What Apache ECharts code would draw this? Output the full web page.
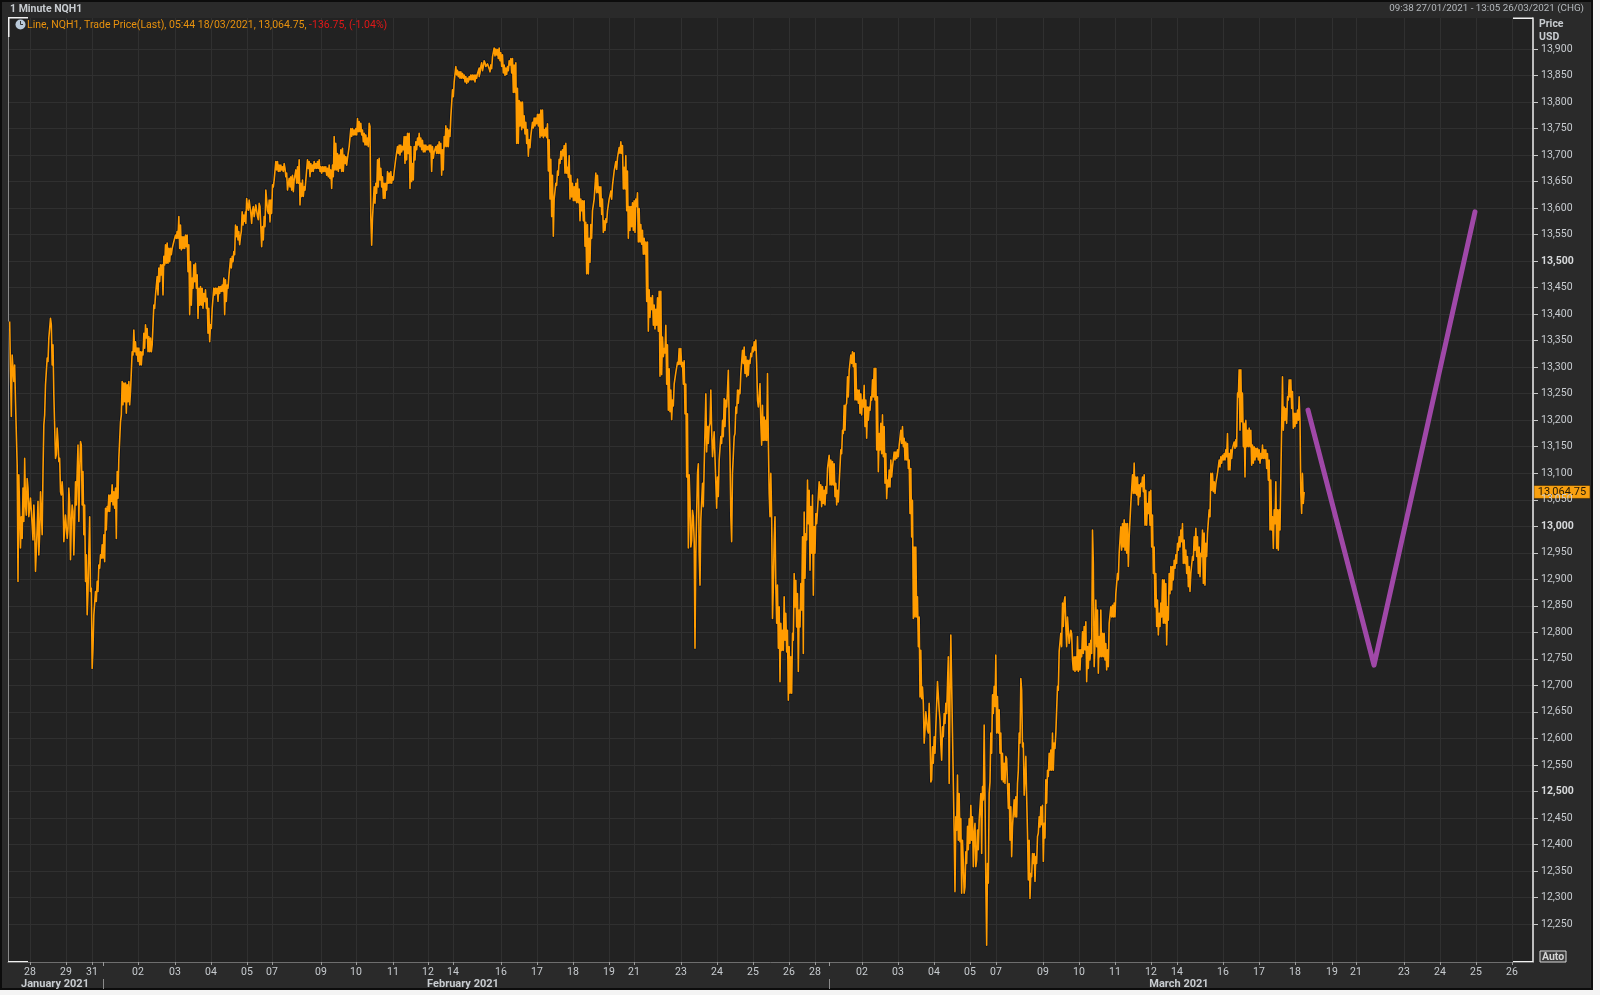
<!DOCTYPE html>
<html><head><meta charset="utf-8">
<script src="https://cdn.jsdelivr.net/npm/echarts@6/dist/echarts.min.js"></script>
<style>html,body{margin:0;padding:0;background:#f4f4f4;width:1600px;height:995px;overflow:hidden}
#chart{position:absolute;left:0;top:0;width:1593px;height:990px}</style></head>
<body><div id="chart"></div>
<script>
// Time axis: one slot = 1/36 of a trading session, counted from the 28 Jan tick.
const xTickLabels = ['28','29','31','02','03','04','05','07','09','10','11','12','14','16','17','18','19','21','23','24','25','26','28','02','03','04','05','07','09','10','11','12','14','16','17','18','19','21','23','24','25','26'];
const xTickSlots = [0,36,62,108,145,181,217,242,291,326,363,398,423,471,507,543,579,604,651,687,723,759,785,832,868,904,940,966,1013,1049,1085,1121,1147,1193,1229,1265,1302,1326,1374,1410,1446,1482];
const monthLabels = ['January 2021','February 2021','March 2021'];
const monthLabelSlots = [25,433,1149];
const monthStartSlots = [73,799];
const yTicks = [13900,13850,13800,13750,13700,13650,13600,13550,13500,13450,13400,13350,13300,13250,13200,13150,13100,13050,13000,12950,12900,12850,12800,12750,12700,12650,12600,12550,12500,12450,12400,12350,12300,12250];
const yBoldTicks = [13500,13000,12500];
const lastPrice = 13064.75;
const sampleStep = 5/6;

const startA = -20.33;
const pricesA = [13386,13292,13207,13323,13326,13273,13304,13235,13235,13116,12896,13097,13021,12959,13018,12977,13072,13009,13128,13040,13021,13090,13072,13018,13018,13053,13028,13003,12974,13040,12996,12915,12915,12996,13047,12946,12984,13065,13065,12984,13103,13191,13210,13267,13267,13317,13311,13355,13355,13392,13380,13304,13342,13248,13248,13128,13135,13185,13160,13122,13128,13065,13059,13084,13059,12971,12974,13021,13021,12977,12996,13072,13043,12937,13009,13040,13028,12946,13009,13084,13040,13103,13153,13009,13103,13160,13153,13040,13103,12984,13040,12896,12946,12833,12877,12952,13018,12877,12883,12732,12770,12833,12833,12877,12858,12896,12877,12927,12921,12946,12940,12965,12940,12984,12933,13034,12993,13037,13028,13059,13028,13059,13047,13078,13040,13065,13034,13072,12977,13103,13053,13128,13128,13197,13210,13273,13229,13270,13235,13270,13213,13267,13235,13273,13229,13254,13254,13329,13323,13370,13329,13348,13323,13336,13311,13336,13304,13329,13304,13329,13323,13364,13336,13380,13355,13373,13329,13358,13329,13355,13329,13342,13342,13417,13411,13436,13436,13471,13436,13487,13461,13493,13474,13493,13436,13509,13493,13531,13496,13534,13496,13524,13499,13524,13512,13524,13524,13537,13537,13549,13543,13556,13543,13584,13524,13568,13521,13546,13524,13546,13524,13549,13527,13549,13480,13531,13399,13499,13417,13468,13449,13493,13461,13496,13449,13474,13392,13449,13417,13452,13417,13449,13411,13439,13424,13446,13411,13430,13364,13411,13348,13380,13373,13411,13411,13449,13436,13449,13439,13449,13424,13452,13439,13452,13443,13455,13443,13468,13399,13465,13424,13455,13449,13471,13471,13505,13487,13509,13499,13518,13512,13568,13546,13565,13540,13556,13531,13546,13556,13593,13568,13587,13575,13593];

const startB = 215;
const pricesB = [13590,13571,13618,13603,13596,13615,13603,13590,13571,13596,13603,13584,13587,13606,13609,13584,13578,13609,13603,13565,13527,13565,13540,13584,13565,13634,13637,13596,13590,13615,13574,13615,13590,13644,13640,13653,13653,13688,13672,13688,13669,13681,13669,13681,13672,13678,13669,13684,13675,13659,13666,13634,13631,13656,13640,13659,13634,13662,13631,13653,13653,13672,13647,13678,13647,13691,13606,13647,13622,13653,13622,13640,13634,13653,13653,13691,13675,13688,13659,13684,13669,13681,13669,13688,13675,13684,13675,13688,13675,13691,13669,13678,13666,13678,13669,13678,13669,13678,13662,13675,13659,13681,13656,13672,13637,13681,13659,13735,13672,13722,13672,13703,13669,13700,13675,13710,13669,13713,13669,13700,13684,13697,13681,13694,13691,13716,13716,13750,13735,13750,13738,13747,13738,13750,13738,13769,13744,13763,13744,13760,13738,13747,13725,13741,13719,13738,13719,13732,13716,13760,13754,13581,13530,13581,13584,13640,13609,13647,13628,13691,13640,13694,13653,13675,13640,13659,13618,13647,13618,13647,13634,13669,13647,13666,13647,13669,13647,13659,13653,13669,13666,13694,13694,13716,13703,13719,13700,13719,13706,13716,13710,13735,13684,13735,13691,13741,13703,13741,13637,13716,13650,13684,13653,13716,13691,13725,13710,13732,13719,13741,13716,13732,13710,13728,13706,13719,13706,13719,13710,13716,13710,13719,13706,13719,13669,13716,13694,13706,13703,13716,13703,13719,13703,13725,13703,13722,13662,13710,13672,13735,13716,13755,13716,13750,13716,13747,13735,13772,13772,13823,13810,13838,13838,13867,13851,13860,13848,13857,13845,13857,13845,13854,13845,13851,13838,13848,13835,13845,13838,13848,13842,13851,13842,13851,13842,13851,13838,13851,13845,13854,13854,13864];

const startC = 448.33;
const pricesC = [13861,13848,13855,13867,13874,13859,13867,13878,13874,13867,13867,13872,13872,13863,13857,13870,13863,13885,13882,13902,13887,13900,13889,13899,13882,13902,13878,13893,13867,13889,13855,13870,13850,13864,13852,13867,13859,13878,13870,13882,13855,13882,13818,13870,13818,13874,13722,13826,13722,13803,13755,13800,13748,13800,13751,13774,13740,13762,13722,13748,13698,13729,13714,13736,13736,13762,13751,13770,13755,13770,13759,13777,13755,13777,13733,13785,13736,13785,13733,13748,13736,13751,13733,13759,13670,13729,13617,13692,13584,13662,13547,13617,13617,13647,13643,13670,13662,13692,13684,13707,13692,13710,13699,13718,13666,13722,13666,13677,13658,13699,13617,13662,13621,13647,13614,13640,13614,13647,13610,13655,13610,13636,13576,13617,13595,13614,13576,13614,13528,13573,13476,13569,13476,13543,13498,13569,13543,13595,13595,13617,13614,13666,13629,13662,13629,13640,13603,13640,13588,13617,13554,13576,13558,13580,13573,13595,13595,13617,13614,13632,13617,13643,13640,13670,13670,13688,13673,13695,13692,13714,13703,13725,13703,13718,13636,13677,13636,13699,13595,13670,13543,13603,13558,13603,13565,13610,13558,13614,13554,13617,13603,13629,13536,13599,13536,13569,13532,13558,13513,13543,13513,13536,13424,13536,13368,13446,13394,13431,13409,13435,13379,13417,13372,13409,13379,13431,13368,13443,13283,13443,13286,13357,13320,13335,13327,13379,13268,13342,13219,13297,13216,13257,13201,13238,13227,13268,13271,13290,13290,13309,13305,13335,13305,13335,13301,13309,13268,13312,13212,13268,13093,13212,12959,13097];

const startD = 660;
const pricesD = [13049,12961,12974,13030,13018,12974,12770,12949,12949,13100,13118,12949,12889,13012,13012,13081,13037,13112,13112,13250,13140,13188,13156,13188,13194,13257,13181,13131,13131,13178,13175,13081,13034,13093,13056,13125,13125,13169,13156,13200,13169,13241,13188,13238,13225,13257,13294,13200,13134,13018,12971,13100,13134,13169,13175,13225,13213,13257,13232,13257,13250,13288,13288,13332,13307,13338,13288,13320,13282,13313,13285,13313,13307,13326,13320,13338,13329,13348,13332,13351,13307,13238,13225,13244,13269,13194,13153,13228,13162,13206,13162,13200,13162,13288,13162,13062,13018,13100,13018,12826,12886,12974,13018,12886,12817,12889,12770,12848,12707,12817,12766,12804,12766,12867,12785,12836,12763,12804,12672,12773,12685,12754,12685,12798,12785,12911,12848,12898,12810,12873,12726,12842,12810,12892,12842,12980,12760,13027,12902,12986,12974,13087,13005,13068,12917,13037,12949,13059,12870,12999,12949,13024,13005,13030,13030,13084,13049,13078,13037,13075,13043,13068,13040,13075,13062,13109,13106,13134,13078,13125,13078,13122,13078,13118,13056,13081,13040,13068,13046,13081,13081,13144,13137,13181,13175,13228,13181,13228,13232,13282,13244,13294,13294,13323,13307,13329,13301,13327,13238,13307,13238,13257,13232,13257,13213,13250,13210,13238,13225,13266,13188,13238,13166,13225,13200,13225,13219,13244,13238,13276,13244,13298,13238,13298,13144,13244,13103,13175,13144,13194,13137,13210,13131,13188,13081,13137,13052,13087,13074,13106,13074,13125,13093,13112,13112,13140,13125,13140,13128,13144,13131,13153,13150,13181,13156,13188,13150,13166,13125,13159,13125,13156,13109,13125,13024,13109,12980,13049,12826,12961,12829,12961,12829,12867,12773,12829,12678,12766,12675,12697];

const startE = 893.33;
const pricesE = [12666,12591,12616,12650,12647,12616,12610,12666,12610,12518,12522,12584,12553,12603,12572,12622,12622,12707,12704,12654,12635,12588,12559,12622,12603,12647,12628,12666,12647,12704,12754,12515,12679,12795,12798,12610,12610,12421,12311,12452,12427,12531,12408,12496,12405,12449,12308,12408,12364,12308,12320,12386,12364,12434,12390,12449,12402,12474,12408,12452,12358,12421,12440,12358,12371,12427,12390,12446,12446,12496,12383,12509,12484,12625,12490,12327,12210,12364,12327,12496,12518,12610,12572,12682,12647,12698,12660,12757,12610,12679,12610,12654,12572,12610,12522,12572,12518,12553,12515,12566,12562,12515,12468,12515,12408,12471,12377,12434,12434,12484,12452,12490,12452,12515,12540,12610,12591,12713,12691,12584,12591,12493,12522,12566,12490,12421,12333,12408,12298,12345,12339,12383,12364,12383,12330,12377,12364,12415,12421,12452,12433,12471,12437,12474,12368,12440,12412,12522,12478,12540,12528,12572,12540,12578,12540,12610,12540,12591,12581,12610,12610,12698,12691,12764];

const startF = 1030;
const pricesF = [12767,12798,12773,12855,12811,12858,12867,12811,12773,12829,12826,12779,12776,12804,12798,12748,12729,12754,12726,12754,12729,12792,12726,12767,12729,12767,12754,12801,12760,12811,12767,12820,12707,12773,12732,12779,12748,12785,12760,12993,12930,12735,12779,12861,12773,12842,12723,12792,12754,12842,12754,12798,12754,12798,12748,12779,12729,12767,12735,12817,12817,12848,12829,12851,12829,12855,12829,12873,12873,12911,12899,12949,12949,12999,12955,13005,12961,13012,12955,13005,12949,13005,12924,12980,12980,13043,13043,13097,13062,13119,13062,13093,13059,13093,13040,13078,13056,13081,13075,13093,13065,13097,13002,13068,13002,13043,13024,13065,13002,13068,12961,13021,12911,12961,12848,12911,12811,12861,12795,12836,12811,12855,12829,12899,12817,12899,12817,12892,12776,12848,12823,12911,12873,12924,12880,12924,12899,12936,12921,12946,12930,12968,12955,12980,12961,12993,12971,13005,12930,12974,12930,12955,12911,12943,12886,12924,12877,12911,12911,12943,12936,12980,12955,12996,12943,12980,12911,12961,12905,12949,12943,12993,12892,12987,12889,12968,12943,12987,12987,13031,13018,13100,13068,13100,13065,13084,13062,13081,13081,13100,13100,13125,13112,13131,13119,13134,13125,13137,13125,13144,13131,13175,13106,13137,13106,13144,13128,13147,13144,13159,13147,13163,13150,13251,13244,13295,13181,13295,13197,13251,13150,13194,13093,13200,13150,13181,13150,13185,13150,13181,13115,13153,13119,13150,13125,13147,13131,13147,13125,13144,13119,13137,13128,13153,13128,13144,13128,13144,13109,13137,13087,13125,12993,13087,12993,13018,12958,13031,13005,13084,12958,13031,12955,13031,12993,13093,13093,13282,13181,13225,13200,13222,13194,13244,13238,13276,13244,13276,13222,13254,13185,13213,13188,13213,13194,13219,13200,13244,13200,13062,13024,13100,13043,13064.75];

const forecastSlots = [1278,1344,1445];
const forecastPrices = [13219,12738,13593];

const segments = [[startA,pricesA],[startB,pricesB],[startC,pricesC],[startD,pricesD],[startE,pricesE],[startF,pricesF]];
const priceData = [];
segments.forEach(([s,v])=>v.forEach((p,i)=>priceData.push([s+i*sampleStep,p])));
const forecastData = forecastSlots.map((s,i)=>[s,forecastPrices[i]]);
const xLabelBySlot = new Map(xTickSlots.map((s,i)=>[s,xTickLabels[i]]));
const monthBySlot = new Map(monthLabelSlots.map((s,i)=>[s,monthLabels[i]]));
const FONT = 'Roboto, "Noto Sans", sans-serif';
const TXT = '#c8ccd0';

const chart = echarts.init(document.getElementById('chart'),null,{renderer:'canvas'});
chart.setOption({
  animation:false,
  backgroundColor:'#2a2a2a',
  grid:{left:8,top:18,right:60,bottom:28,show:true,backgroundColor:'#222222',borderWidth:0},
  xAxis:[
    {type:'value',min:-22,max:1503,position:'bottom',
     axisLine:{show:true,onZero:false,lineStyle:{color:'#6e6e6e',width:1}},
     axisTick:{show:true,length:3,lineStyle:{color:'#9a9a9a'},customValues:xTickSlots},
     axisLabel:{show:true,customValues:xTickSlots,color:TXT,fontFamily:FONT,fontSize:10.5,margin:5,formatter:v=>xLabelBySlot.get(v)||''},
     splitLine:{show:true,lineStyle:{color:'#303030',width:1}}},
    {type:'value',min:-22,max:1503,position:'bottom',offset:17,
     axisLine:{show:false,onZero:false},
     axisTick:{show:true,length:10,lineStyle:{color:'#8a8a8a'},customValues:monthStartSlots},
     axisLabel:{show:true,customValues:monthLabelSlots,color:TXT,fontFamily:FONT,fontWeight:'bold',fontSize:11,margin:0,formatter:v=>monthBySlot.get(v)||''},
     splitLine:{show:false}},
    {type:'value',min:-22,max:1503,position:'bottom',
     axisLine:{show:false,onZero:false},
     axisTick:{show:true,length:4,lineStyle:{color:'#9a9a9a'},customValues:monthStartSlots},
     axisLabel:{show:false},splitLine:{show:false}}
  ],
  yAxis:{type:'value',position:'right',min:12178.3,max:13958.5,
     axisLine:{show:true,onZero:false,lineStyle:{color:'#f0f0f0',width:1.5}},
     axisTick:{show:true,length:5,lineStyle:{color:'#c8c8c8'},customValues:yTicks},
     axisLabel:{show:true,customValues:yTicks,margin:8,color:TXT,fontFamily:FONT,fontSize:10.5,
       formatter:v=>{const t=echarts.format.addCommas(v);return yBoldTicks.includes(v)?`{b|${t}}`:t;},
       rich:{b:{fontWeight:'bold',color:'#d8dadc',fontFamily:FONT,fontSize:10.5}}},
     splitLine:{show:true,lineStyle:{color:'#303030',width:1}}},
  series:[
    {type:'line',data:priceData,showSymbol:false,symbol:'none',silent:true,sampling:false,lineStyle:{color:'#0d1320',width:3,join:'round'}},
    {type:'line',data:priceData,showSymbol:false,symbol:'none',silent:true,sampling:false,lineStyle:{color:'#ff9c00',width:1.6,join:'round'}},
    {type:'line',data:forecastData,showSymbol:false,symbol:'none',silent:true,lineStyle:{color:'#a048a8',width:5,cap:'round',join:'round'}}
  ]
});
const tagY = chart.convertToPixel({yAxisIndex:0},lastPrice);
const hdr = {fontFamily:'Roboto, "Noto Sans", sans-serif'};
chart.setOption({graphic:{elements:[
  {type:'rect',shape:{x:0,y:0,width:1593,height:2},style:{fill:'#0c0c0c'},silent:true},
  {type:'rect',shape:{x:0,y:0,width:2,height:990},style:{fill:'#0c0c0c'},silent:true},
  {type:'rect',shape:{x:1591,y:0,width:2,height:990},style:{fill:'#0c0c0c'},silent:true},
  {type:'rect',shape:{x:0,y:988,width:1593,height:2},style:{fill:'#0c0c0c'},silent:true},
  {type:'rect',shape:{x:8,y:18,width:1,height:944},style:{fill:'#8a8a8a'},silent:true},
  {type:'rect',shape:{x:8,y:17,width:20,height:1.5},style:{fill:'#f0f0f0'},silent:true},
  {type:'rect',shape:{x:8,y:17,width:1.5,height:20},style:{fill:'#f0f0f0'},silent:true},
  {type:'rect',shape:{x:8,y:961,width:20,height:1.5},style:{fill:'#f0f0f0'},silent:true},
  {type:'rect',shape:{x:1513,y:961,width:20,height:1.5},style:{fill:'#f0f0f0'},silent:true},
  {type:'rect',shape:{x:1513,y:17.5,width:20,height:1.5},style:{fill:'#f0f0f0'},silent:true},
  {type:'text',x:10,y:9,style:{text:'1 Minute NQH1',fill:'#c8ccd0',font:'bold 10.5px '+hdr.fontFamily,textVerticalAlign:'middle'},silent:true},
  {type:'text',x:1584,y:9,style:{text:'09:38 27/01/2021 - 13:05 26/03/2021 (CHG)',fill:'#b4b8bc',font:'9.8px '+hdr.fontFamily,textAlign:'right',textVerticalAlign:'middle'},silent:true},
  {type:'circle',shape:{cx:20.5,cy:24.5,r:5},style:{fill:'#b9c9d9'},silent:true},
  {type:'line',shape:{x1:20.5,y1:24.5,x2:20.5,y2:21},style:{stroke:'#333',lineWidth:1},silent:true},
  {type:'line',shape:{x1:20.5,y1:24.5,x2:23,y2:24.5},style:{stroke:'#333',lineWidth:1},silent:true},
  {type:'text',x:27,y:25,style:{rich:{o:{fill:'#e8920e',font:'10.5px '+hdr.fontFamily},r:{fill:'#e01818',font:'10.5px '+hdr.fontFamily}},
     text:'{o|Line, NQH1, Trade Price(Last), 05:44 18/03/2021, 13,064.75, }{r|-136.75, (-1.04%)}',textVerticalAlign:'middle'},silent:true},
  {type:'text',x:1539,y:24,style:{text:'Price',fill:'#c8ccd0',font:'bold 10.5px '+hdr.fontFamily,textVerticalAlign:'middle'},silent:true},
  {type:'text',x:1539,y:37,style:{text:'USD',fill:'#c8ccd0',font:'bold 10.5px '+hdr.fontFamily,textVerticalAlign:'middle'},silent:true},
  {type:'rect',shape:{x:1534,y:tagY-6.5,width:56,height:13},style:{fill:'#f8a010',stroke:'#2a1a00',lineWidth:0.5},silent:true},
  {type:'text',x:1562,y:tagY,style:{text:'13,064.75',fill:'#20180a',font:'11px '+hdr.fontFamily,textAlign:'center',textVerticalAlign:'middle'},silent:true},
  {type:'rect',shape:{x:1540,y:951,width:26,height:11},style:{fill:'#3a3a3a',stroke:'#d8d8d8',lineWidth:1},silent:true},
  {type:'text',x:1553,y:957,style:{text:'Auto',fill:'#d4d4d4',font:'bold 10.5px '+hdr.fontFamily,textAlign:'center',textVerticalAlign:'middle'},silent:true}
]}});
</script></body></html>
